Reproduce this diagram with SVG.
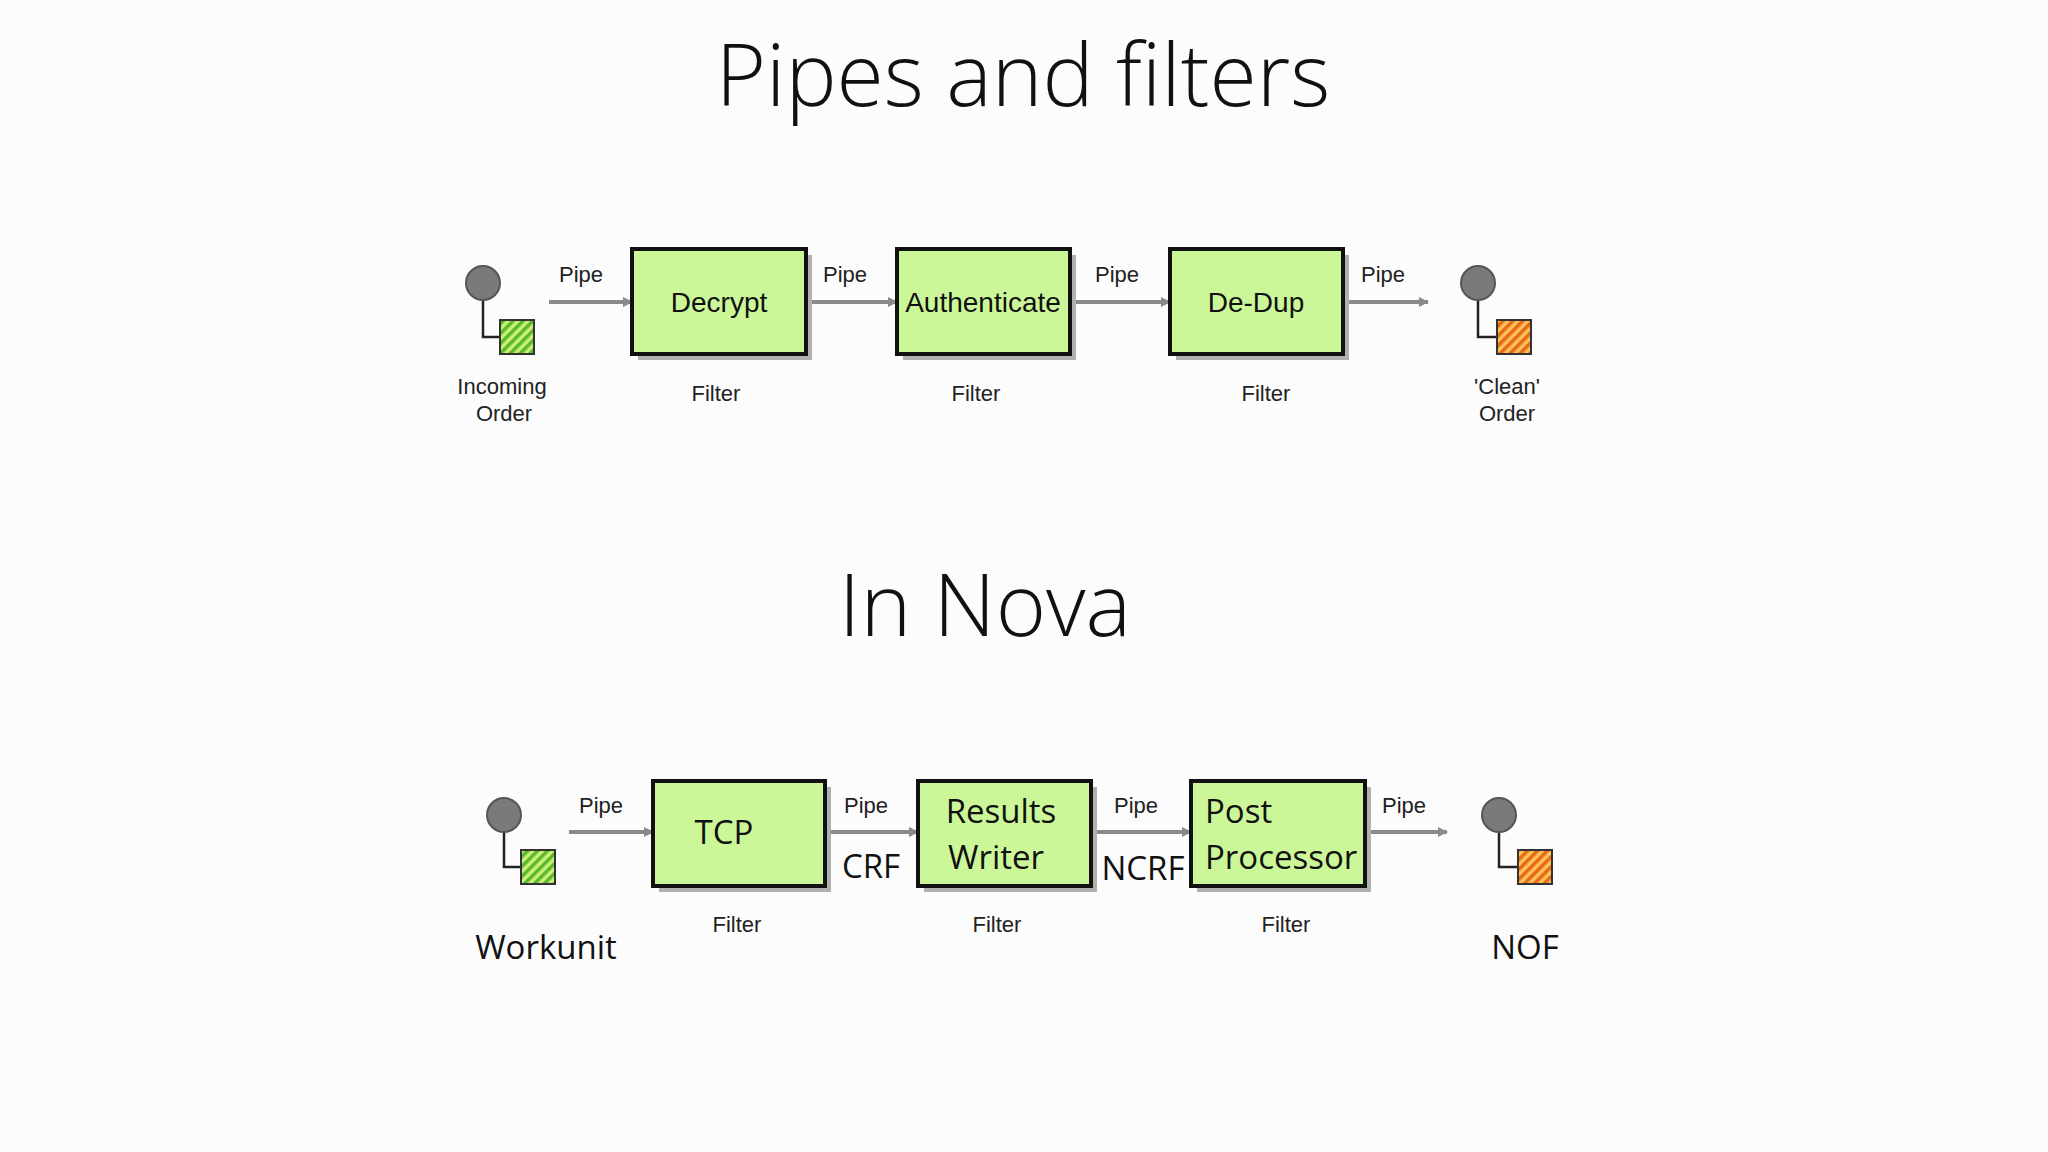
<svg xmlns="http://www.w3.org/2000/svg" width="2048" height="1152" viewBox="0 0 2048 1152">
<defs>
<pattern id="hg" width="7" height="7" patternUnits="userSpaceOnUse" patternTransform="rotate(45)"><rect width="7" height="7" fill="#c8f07a"/><rect width="3.5" height="7" fill="#5cb82a"/></pattern>
<pattern id="ho" width="7" height="7" patternUnits="userSpaceOnUse" patternTransform="rotate(45)"><rect width="7" height="7" fill="#ffc060"/><rect width="3.5" height="7" fill="#e66a10"/></pattern>
<marker id="ar" markerWidth="10" markerHeight="10" refX="9" refY="5" orient="auto" markerUnits="userSpaceOnUse"><path d="M0,0 L10,5 L0,10 Z" fill="#8a8a8a"/></marker>
</defs>
<style>
.t{font-family:"Open Sans","Liberation Sans",sans-serif;font-weight:300;font-size:86px;fill:#111;text-anchor:middle}
.s{font-family:"Liberation Sans",Arial,sans-serif;font-size:22px;fill:#222;text-anchor:middle}
.b{font-family:"Liberation Sans",Arial,sans-serif;font-size:28px;fill:#111;text-anchor:middle}
.c{font-family:"Open Sans","Liberation Sans",sans-serif;font-size:33px;fill:#111}
.box{fill:#ccf799;stroke:#111;stroke-width:4}
.sh{fill:#b0b0b0}
.pipe{stroke:#8a8a8a;stroke-width:4;fill:none;marker-end:url(#ar)}
.circ{fill:#7a7a7a;stroke:#555;stroke-width:2}
.stem{stroke:#222;stroke-width:2.5;fill:none}
.sq{stroke:#333;stroke-width:2}
</style>
<rect width="2048" height="1152" fill="#fcfcfc"/>
<text class="t" x="1023" y="106">Pipes and filters</text>
<text class="t" x="985" y="636">In Nova</text>

<g id="connectors">
<line class="pipe" x1="549" y1="302" x2="632" y2="302"/>
<line class="pipe" x1="806" y1="302" x2="897" y2="302"/>
<line class="pipe" x1="1070" y1="302" x2="1170" y2="302"/>
<line class="pipe" x1="1343" y1="302" x2="1428" y2="302"/>
<line class="pipe" x1="569" y1="832" x2="653" y2="832"/>
<line class="pipe" x1="825" y1="832" x2="918" y2="832"/>
<line class="pipe" x1="1091" y1="832" x2="1191" y2="832"/>
<line class="pipe" x1="1365" y1="832" x2="1447" y2="832"/>
<text class="s" x="581" y="282">Pipe</text>
<text class="s" x="845" y="282">Pipe</text>
<text class="s" x="1117" y="282">Pipe</text>
<text class="s" x="1383" y="282">Pipe</text>
<text class="s" x="601" y="813">Pipe</text>
<text class="s" x="866" y="813">Pipe</text>
<text class="s" x="1136" y="813">Pipe</text>
<text class="s" x="1404" y="813">Pipe</text>
<text class="c" x="871" y="878" text-anchor="middle">CRF</text>
<text class="c" x="1143" y="880" text-anchor="middle">NCRF</text>
</g>

<g id="incoming">
<path class="stem" d="M483,300 V337 H500"/>
<circle class="circ" cx="483" cy="283" r="17"/>
<rect class="sq" x="500" y="320" width="34" height="34" fill="url(#hg)"/>
<text class="s" x="502" y="394">Incoming</text>
<text class="s" x="504" y="421">Order</text>
</g>
<g id="decrypt">
<rect class="sh" x="638" y="255" width="174" height="105"/>
<rect class="box" x="632" y="249" width="174" height="105"/>
<text class="b" x="719" y="312">Decrypt</text>
<text class="s" x="716" y="401">Filter</text>
</g>
<g id="authenticate">
<rect class="sh" x="903" y="255" width="173" height="105"/>
<rect class="box" x="897" y="249" width="173" height="105"/>
<text class="b" x="983" y="312">Authenticate</text>
<text class="s" x="976" y="401">Filter</text>
</g>
<g id="dedup">
<rect class="sh" x="1176" y="255" width="173" height="105"/>
<rect class="box" x="1170" y="249" width="173" height="105"/>
<text class="b" x="1256" y="312">De-Dup</text>
<text class="s" x="1266" y="401">Filter</text>
</g>
<g id="clean">
<path class="stem" d="M1478,300 V337 H1497"/>
<circle class="circ" cx="1478" cy="283" r="17"/>
<rect class="sq" x="1497" y="320" width="34" height="34" fill="url(#ho)"/>
<text class="s" x="1507" y="394">'Clean'</text>
<text class="s" x="1507" y="421">Order</text>
</g>

<g id="workunit">
<path class="stem" d="M504,832 V867 H521"/>
<circle class="circ" cx="504" cy="815" r="17"/>
<rect class="sq" x="521" y="850" width="34" height="34" fill="url(#hg)"/>
<text class="c" x="546" y="959" text-anchor="middle">Workunit</text>
</g>
<g id="tcp">
<rect class="sh" x="659" y="787" width="172" height="105"/>
<rect class="box" x="653" y="781" width="172" height="105"/>
<text class="c" x="724" y="844" text-anchor="middle">TCP</text>
<text class="s" x="737" y="932">Filter</text>
</g>
<g id="results">
<rect class="sh" x="924" y="787" width="173" height="105"/>
<rect class="box" x="918" y="781" width="173" height="105"/>
<text class="c" x="1001" y="823" text-anchor="middle">Results</text>
<text class="c" x="996" y="869" text-anchor="middle">Writer</text>
<text class="s" x="997" y="932">Filter</text>
</g>
<g id="post">
<rect class="sh" x="1197" y="787" width="174" height="105"/>
<rect class="box" x="1191" y="781" width="174" height="105"/>
<text class="c" x="1205" y="823">Post</text>
<text class="c" x="1205" y="869">Processor</text>
<text class="s" x="1286" y="932">Filter</text>
</g>
<g id="nof">
<path class="stem" d="M1499,832 V867 H1518"/>
<circle class="circ" cx="1499" cy="815" r="17"/>
<rect class="sq" x="1518" y="850" width="34" height="34" fill="url(#ho)"/>
<text class="c" x="1525" y="959" text-anchor="middle">NOF</text>
</g>
</svg>
